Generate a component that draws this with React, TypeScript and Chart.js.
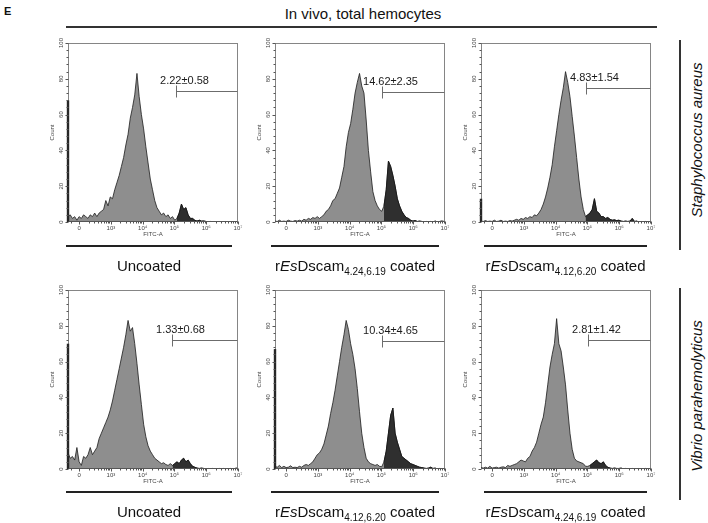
import React, { useEffect, useRef } from 'react';
import { Chart, registerables } from 'chart.js';
Chart.register(...registerables);

// ---- axis definition (display units: 0 -> "0", 1 -> 10^3 ... 5 -> 10^7)
const BIN_START = -0.35;
const BIN_STEP = 0.07;
const X_MIN = -0.35;
const X_MAX = 5;
const X_TICK_VALUES = [0, 1, 2, 3, 4, 5];
const X_TICK_LABELS = ['0', '10³', '10⁴', '10⁵', '10⁶', '10⁷'];
const Y_TICK_VALUES = [0, 20, 40, 60, 80, 100];

// ---- histogram counts per bin (S. aureus row)
const SA_UNCOATED = [
  3, 4, 2, 3, 1, 3, 2, 4, 3, 2,
  4, 3, 5, 3, 5, 6, 7, 12, 9, 14,
  13, 18, 22, 26, 31, 36, 43, 49, 58, 64,
  71, 83, 70, 60, 52, 42, 33, 24, 18, 12,
  8, 6, 4, 5, 3, 4, 2, 3, 1, 2,
  5, 10, 7, 8, 4, 2, 2, 1, 0.5, 1,
  0.5, 0.6, 0.3, 0, 0.3, 0, 0, 0.3, 0, 0,
  0, 0.3, 0, 0, 0, 0, 0,
];
const SA_DSCAM_424_619 = [
  0.5, 0.3, 1, 0.3, 0.5, 0.3, 1, 0.5, 0.3, 0.8,
  0.5, 1, 0.5, 1.5, 1, 2, 1.5, 2.5, 2, 3,
  2, 3, 4, 6, 7, 9, 12, 13, 16, 19,
  25, 31, 42, 50, 55, 63, 72, 78, 83, 76,
  72, 57, 40, 28, 17, 12, 9, 7, 6, 9,
  18, 34, 31, 26, 20, 13, 9, 6, 4, 2.5,
  2, 1, 0.5, 0.8, 0.3, 0.5, 0.3, 0, 0.3, 0,
  0.3, 0, 0.5, 0, 0.3, 0.5, 0.3,
];
const SA_DSCAM_412_620 = [
  0.5, 0.3, 0.8, 0.3, 0.5, 0.3, 1, 0.3, 0.5, 1,
  0.3, 0.5, 0.3, 0.8, 0.5, 1, 1.5, 1, 2, 1.5,
  2.5, 2, 3, 2.5, 4, 3.5, 5, 7, 10, 14,
  19, 25, 32, 42, 51, 60, 68, 75, 84, 78,
  70, 59, 48, 36, 24, 14, 7, 3, 4, 5,
  7, 13, 6, 5, 3, 3, 2, 2.5, 1.5, 1,
  1.2, 0.8, 1, 0.5, 0.3, 0.5, 0.3, 0.5, 2, 0.3,
  0.5, 0, 0.3, 0, 0.3, 0, 0.3,
];
// ---- V. parahemolyticus row
const VP_UNCOATED = [
  9, 6, 7, 5, 12, 4, 2, 7, 6, 8,
  12, 8, 10, 12, 17, 20, 23, 26, 29, 33,
  38, 44, 50, 56, 62, 68, 75, 83, 77, 79,
  70, 59, 47, 36, 25, 18, 13, 10, 8, 6,
  5, 4, 3, 3.5, 2.5, 2, 3, 2, 3, 4,
  3, 5, 6, 4, 5, 3, 1.5, 1, 0.5, 0.3,
  0.5, 0.3, 0, 0.3, 0, 0.3, 0, 0, 0.3, 0,
  0.3, 0, 0, 0.3, 0, 0.3, 0.5,
];
const VP_DSCAM_412_620 = [
  1.5, 1, 2, 0.8, 1.5, 0.8, 1, 1.8, 0.8, 1,
  0.8, 1.5, 1, 2, 2.5, 2, 3, 4, 6, 8,
  9, 11, 14, 19, 24, 31, 37, 44, 52, 60,
  68, 75, 83, 78, 70, 64, 56, 45, 32, 20,
  12, 6, 4, 3, 2.5, 2, 2.5, 1.5, 1.3, 4,
  10, 20, 30, 34, 20, 15, 11, 7, 6, 5,
  4, 3, 2.5, 2, 1.5, 1, 0.8, 0.5, 0.3, 0.5,
  1, 0.3, 0.5, 0, 0.3, 0, 0.3,
];
const VP_DSCAM_424_619 = [
  0.8, 0.5, 1, 0.5, 1.5, 0.5, 0.8, 1, 0.5, 1,
  1.2, 0.8, 2, 1.5, 2, 2.5, 3, 4, 5, 4.5,
  4, 6, 7, 10, 12, 15, 20, 25, 29, 37,
  47, 57, 64, 70, 84, 70, 66, 57, 47, 33,
  20, 11, 6, 4.5, 4, 3.5, 3, 1.5, 1.5, 2,
  3, 4, 5, 3.5, 3, 4, 2, 1, 0.5, 0.3,
  0.5, 0.3, 0.3, 0.5, 0, 0.3, 0, 0, 0.3, 0,
  0, 0.3, 0, 0, 0.3, 0, 0.3,
];

const PANEL_SERIES = [SA_UNCOATED, SA_DSCAM_424_619, SA_DSCAM_412_620, VP_UNCOATED, VP_DSCAM_412_620, VP_DSCAM_424_619];
const EDGE_COUNTS = [68, 0, 13, 70, 67, 0];
const GATE_START = [3.06, 3.03, 2.94, 2.91, 3.03, 3.03];
const GATE_LEVEL = [73, 72.6, 74.6, 72, 71.6, 72];
const GATE_LABELS = ['2.22±0.58', '14.62±2.35', '4.83±1.54', '1.33±0.68', '10.34±4.65', '2.81±1.42'];
const PANEL_SUBS: (string | null)[] = [null, '4.24,6.19', '4.12,6.20', null, '4.12,6.20', '4.24,6.19'];
const ROW_NAMES = ['Staphylococcus aureus', 'Vibrio parahemolyticus'];
const TITLE = 'In vivo, total hemocytes';

// ---- layout
const FONT = '"Liberation Sans", Arial, Helvetica, sans-serif';
const COL_LEFT = [68, 275, 481];
const ROW_TOP = [43, 290];
const FRAME_W = 170;
const FRAME_H = 179;
const PAD = { left: 30, top: 10, right: 6, bottom: 24 };

const X_MINOR: number[] = [];
for (let d = 0; d < 5; d++) for (let k = 2; k <= 9; k++) X_MINOR.push(d + Math.log10(k));
X_MINOR.push(-0.25);
const Y_MINOR: number[] = [];
for (let v = 4; v < 100; v += 4) if (v % 20 !== 0) Y_MINOR.push(v);

function makeAxesPlugin(gateStart: number, gateLevel: number, gateLabel: string) {
  const box = (chart: any) => {
    const a = chart.chartArea;
    return {
      L: Math.round(a.left) + 0.5,
      R: Math.round(a.right) - 0.5,
      T: Math.round(a.top) + 0.5,
      B: Math.round(a.bottom) - 0.5,
    };
  };
  return {
    id: 'flowAxes',
    beforeDatasetsDraw(chart: any) {
      const { ctx } = chart;
      const { L, R, T, B } = box(chart);
      ctx.save();
      ctx.lineWidth = 1;
      ctx.strokeStyle = '#858585';
      ctx.strokeRect(L, T, R - L, B - T);
      ctx.restore();
    },
    afterDatasetsDraw(chart: any) {
      const { ctx } = chart;
      const xs = chart.scales.x;
      const ys = chart.scales.y;
      const { L, R, T, B } = box(chart);
      ctx.save();
      ctx.lineWidth = 1;
      ctx.strokeStyle = '#555';
      ctx.beginPath();
      ctx.moveTo(L, B); ctx.lineTo(R, B);
      X_TICK_VALUES.forEach((v) => {
        const px = Math.round(xs.getPixelForValue(v)) + 0.5;
        ctx.moveTo(px, B); ctx.lineTo(px, B + 3);
      });
      X_MINOR.forEach((v) => {
        const px = Math.round(xs.getPixelForValue(v)) + 0.5;
        ctx.moveTo(px, B); ctx.lineTo(px, B + 2);
      });
      Y_TICK_VALUES.forEach((v) => {
        const py = Math.round(ys.getPixelForValue(v)) + 0.5;
        ctx.moveTo(L, py); ctx.lineTo(L - 3, py);
      });
      Y_MINOR.forEach((v) => {
        const py = Math.round(ys.getPixelForValue(v)) + 0.5;
        ctx.moveTo(L, py); ctx.lineTo(L - 2, py);
      });
      ctx.stroke();

      ctx.fillStyle = '#444';
      ctx.font = `6px ${FONT}`;
      ctx.textAlign = 'center';
      ctx.textBaseline = 'middle';
      X_TICK_VALUES.forEach((v, i) => ctx.fillText(X_TICK_LABELS[i], xs.getPixelForValue(v), B + 7));
      ctx.fillText('FITC-A', (L + R) / 2, B + 13);
      Y_TICK_VALUES.forEach((v) => {
        ctx.save();
        ctx.translate(L - 7, ys.getPixelForValue(v));
        ctx.rotate(-Math.PI / 2);
        ctx.fillText(String(v), 0, 0);
        ctx.restore();
      });
      ctx.save();
      ctx.translate(L - 16, (T + B) / 2);
      ctx.rotate(-Math.PI / 2);
      ctx.fillText('Count', 0, 0);
      ctx.restore();

      const gx = Math.round(xs.getPixelForValue(gateStart)) + 0.5;
      const gy = Math.round(ys.getPixelForValue(gateLevel)) + 0.5;
      ctx.strokeStyle = '#6c6c6c';
      ctx.beginPath();
      ctx.moveTo(gx, gy - 6); ctx.lineTo(gx, gy + 6);
      ctx.moveTo(gx, gy); ctx.lineTo(R, gy);
      ctx.stroke();
      ctx.fillStyle = '#1a1a1a';
      ctx.font = `11px ${FONT}`;
      ctx.fillText(gateLabel, gx + 8, gy - 11);
      ctx.restore();
    },
  };
}

function Panel({ idx }: { idx: number }) {
  const ref = useRef<HTMLCanvasElement | null>(null);
  const col = idx % 3;
  const row = Math.floor(idx / 3);
  const cw = FRAME_W + PAD.left + PAD.right;
  const ch = FRAME_H + PAD.top + PAD.bottom;
  useEffect(() => {
    if (!ref.current) return;
    const values = PANEL_SERIES[idx];
    const pts = values.map((v, i) => ({ x: BIN_START + i * BIN_STEP, y: v }));
    const gated = pts.filter((p) => p.x >= GATE_START[idx] - 1e-9);
    const chart = new Chart(ref.current, {
      type: 'line',
      data: {
        datasets: [
          { data: [{ x: BIN_START, y: 0 }, { x: BIN_START, y: EDGE_COUNTS[idx] }], fill: false, borderColor: '#262626', borderWidth: 2.4, pointRadius: 0, order: -1, clip: 3 } as any,
          { data: gated, fill: 'origin', backgroundColor: '#2f2f2f', borderColor: '#141414', borderWidth: 0.8, pointRadius: 0, order: 0 } as any,
          { data: pts, fill: 'origin', backgroundColor: '#8e8e8e', borderColor: '#1c1c1c', borderWidth: 0.8, pointRadius: 0, order: 1 } as any,
        ],
      },
      options: {
        animation: false,
        responsive: false,
        devicePixelRatio: 1,
        events: [],
        layout: { padding: PAD },
        elements: { line: { tension: 0 } },
        plugins: { legend: { display: false }, tooltip: { enabled: false } },
        scales: {
          x: { type: 'linear', min: X_MIN, max: X_MAX, display: false },
          y: { type: 'linear', min: 0, max: 100, display: false },
        },
      },
      plugins: [makeAxesPlugin(GATE_START[idx], GATE_LEVEL[idx], GATE_LABELS[idx])],
    });
    return () => chart.destroy();
  }, [idx]);
  return (
    <canvas
      ref={ref}
      width={cw}
      height={ch}
      style={{ position: 'absolute', left: COL_LEFT[col] - PAD.left, top: ROW_TOP[row] - PAD.top, width: cw, height: ch }}
    />
  );
}

function CondLabel({ sub }: { sub: string | null }) {
  if (!sub) return <>Uncoated</>;
  return (
    <>
      r<i>Es</i>Dscam<span style={{ fontSize: 10, position: 'relative', top: 4 }}>{sub}</span> coated
    </>
  );
}

export default function App() {
  const abs = (s: React.CSSProperties): React.CSSProperties => ({ position: 'absolute', ...s });
  return (
    <div style={{ position: 'absolute', left: 0, top: 0, width: 708, height: 523, background: '#fff', fontFamily: FONT, color: '#111', overflow: 'hidden' }}>
      <div style={abs({ left: 4, top: 5, fontSize: 11, fontWeight: 'bold', lineHeight: '12px' })}>E</div>
      <div style={abs({ left: 213, width: 300, top: 5, fontSize: 15, lineHeight: '17px', textAlign: 'center' })}>{TITLE}</div>
      <div style={abs({ left: 66, top: 26, width: 591, height: 1.5, background: '#333' })} />
      {[0, 1, 2, 3, 4, 5].map((i) => <Panel key={i} idx={i} />)}
      {[0, 1].map((r) => (
        <React.Fragment key={r}>
          <div style={abs({ left: 679, top: r === 0 ? 40 : 288, width: 1.5, height: r === 0 ? 210 : 212, background: '#333' })} />
          <div
            style={abs({
              left: 696, top: r === 0 ? 140 : 396, fontSize: 15, fontStyle: 'italic', whiteSpace: 'nowrap', lineHeight: '17px',
              transform: 'translate(-50%, -50%) rotate(-90deg)',
            })}
          >
            {ROW_NAMES[r]}
          </div>
        </React.Fragment>
      ))}
      {[0, 1, 2, 3, 4, 5].map((i) => {
        const col = i % 3;
        const row = Math.floor(i / 3);
        const lineTop = row === 0 ? 245 : 491;
        const lx = [66, 271, 484][col];
        const lw = [166, 168, 163][col];
        return (
          <React.Fragment key={'l' + i}>
            <div style={abs({ left: lx, top: lineTop, width: lw, height: 1.5, background: '#222' })} />
            <div style={abs({ left: lx - 30, width: lw + 60, top: lineTop + 12, fontSize: 15, lineHeight: '17px', textAlign: 'center', whiteSpace: 'nowrap' })}>
              <CondLabel sub={PANEL_SUBS[i]} />
            </div>
          </React.Fragment>
        );
      })}
    </div>
  );
}
